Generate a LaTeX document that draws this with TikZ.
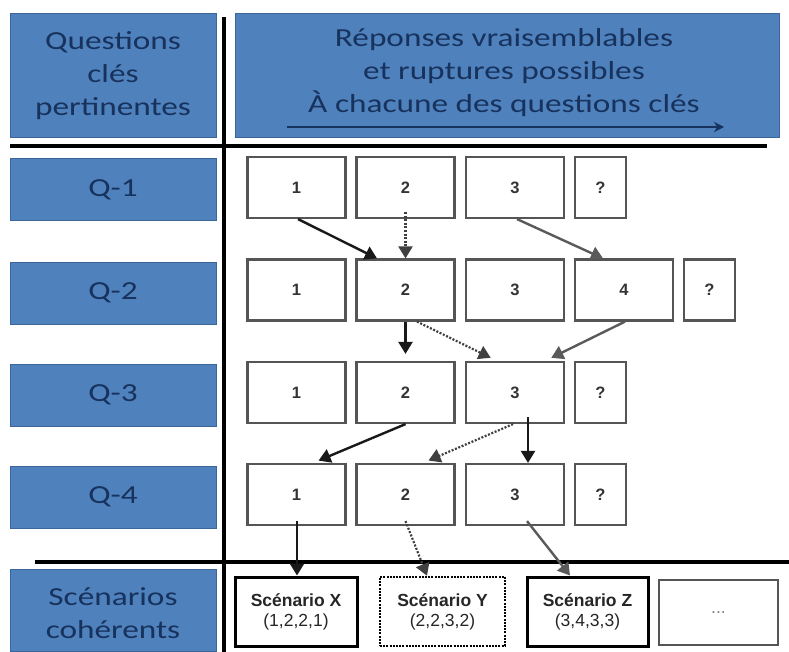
\documentclass[tikz,border=0pt]{standalone}
\usepackage{fontspec}
\setmainfont{Carlito}
\newfontfamily\arialf{Liberation Sans}
\usetikzlibrary{arrows.meta,calc}
\definecolor{boxblue}{HTML}{4F81BD}
\definecolor{boxedge}{HTML}{3B6699}
\definecolor{navy}{HTML}{17325C}
\definecolor{ansedge}{HTML}{555555}
\definecolor{arrgray}{HTML}{5A5A5A}
\tikzset{
  bluebox/.style={draw=boxedge, line width=1pt, fill=boxblue, inner sep=0pt},
  headtxt/.style={text=navy, font=\fontsize{26}{33}\selectfont, align=center, xscale=1.28, inner sep=0pt},
  ans/.style={draw=ansedge, line width=2.2pt, fill=white, inner sep=0pt, minimum height=61pt,
     font=\arialf\bfseries\fontsize{16.5}{18}\selectfont, text=black!80},
  wide/.style={ans, minimum width=98pt},
  narrow/.style={ans, minimum width=51pt},
  scen/.style={draw=black, line width=3pt, fill=white, inner sep=0pt, minimum height=69pt,
     align=center, font=\arialf\fontsize{17.5}{20}\selectfont, text=black!85},
  tipA/.style={-{Triangle[length=12pt,width=14pt]}},
  blk/.style={tipA, draw=black!90, line width=2.4pt},
  gry/.style={tipA, draw=arrgray, line width=2.4pt},
  dot/.style={tipA, draw=black!75, line width=2.2pt, dash pattern=on 2pt off 1.6pt},
  rule/.style={draw=black, line width=3.2pt}
}
\begin{document}
\begin{tikzpicture}[x=1pt,y=-1pt]
\useasboundingbox (0,0) rectangle (789,652);
% header boxes
\node[bluebox, minimum width=206pt, minimum height=124pt] (hq) at (113,75.5) {};
\node[headtxt] (hqt) at (hq.center) {Questions\\clés\\pertinentes};
\node[bluebox, minimum width=544pt, minimum height=124pt] (hr) at (507,75.5) {};
\node[headtxt] (hrt) at (504,73) {Réponses vraisemblables\\et ruptures possibles\\À chacune des questions clés};
\coordinate (ha1) at (287,127);
\coordinate (ha2) at (724,127);
\draw[navy, line width=1.8pt, -{Stealth[length=10pt,width=10pt]}] (ha1) -- (ha2);
% rules
\coordinate (vt) at (224,17);
\coordinate (vb) at (224,652);
\coordinate (h1a) at (10,146);
\coordinate (h1b) at (767,146);
\coordinate (h2a) at (35,562);
\coordinate (h2b) at (789,562);
\draw[rule] (vt) -- (vb);
\draw[rule] (h1a) -- (h1b);
\draw[rule] (h2a) -- (h2b);
% question boxes
\foreach \n/\y in {1/189.5, 2/293, 3/395, 4/497}{
  \node[bluebox, minimum width=206pt, minimum height=62pt] (q\n) at (113,\y) {};
  \node[headtxt] (q\n t) at (q\n.center) {Q-\n};
}
\node[bluebox, minimum width=206pt, minimum height=82pt] (qs) at (113,610) {};
\node[headtxt] (qst) at (113,613) {Scénarios\\cohérents};
% answer rows
\node[wide] (a1) at (296.5,187.5) {1};
\node[wide] (a2) at (405.5,187.5) {2};
\node[wide] (a3) at (515,187.5) {3};
\node[narrow] (a4) at (600.5,187.5) {?};
\node[wide] (b1) at (296.5,290) {1};
\node[wide] (b2) at (405.5,290) {2};
\node[wide] (b3) at (515,290) {3};
\node[wide] (b4) at (624,290) {4};
\node[narrow] (b5) at (709.5,290) {?};
\node[wide] (c1) at (296.5,392.5) {1};
\node[wide] (c2) at (405.5,392.5) {2};
\node[wide] (c3) at (515,392.5) {3};
\node[narrow] (c4) at (600.5,392.5) {?};
\node[wide] (d1) at (296.5,494.5) {1};
\node[wide] (d2) at (405.5,494.5) {2};
\node[wide] (d3) at (515,494.5) {3};
\node[narrow] (d4) at (600.5,494.5) {?};
% scenarios
\node[scen, minimum width=122pt] (sx) at (296,611.5) {\textbf{Scénario X}\\(1,2,2,1)};
\node[scen, minimum width=125pt, line width=2.6pt, dash pattern=on 2pt off 1.2pt] (sy) at (442.5,611.5) {\textbf{Scénario Y}\\(2,2,3,2)};
\node[scen, minimum width=121pt] (sz) at (587.5,611.5) {\textbf{Scénario Z}\\(3,4,3,3)};
\node[scen, minimum width=119pt, minimum height=65pt, draw=ansedge, line width=1.6pt, text=black!50] (sd) at (718.5,612.5) {...};
% arrows row1 -> row2
\draw[blk] ([xshift=1.5pt]a1.south) -- ([xshift=-28.5pt]b2.north);
\draw[dot] ([yshift=7pt]a2.south) -- (b2.north);
\draw[gry] ([xshift=2pt]a3.south) -- ([xshift=-21pt]b4.north);
% row2 -> row3
\draw[blk, shorten >=7pt] (b2.south) -- (c2.north);
\draw[dot, shorten >=7pt] ([xshift=11.5pt]b2.south) -- ([xshift=-18pt]c3.north);
\draw[gry, shorten >=7pt] ([xshift=1pt]b4.south) -- ([xshift=30pt]c3.north);
% row3 -> row4
\draw[blk, shorten >=6pt] (c2.south) -- ([xshift=16.5pt]d1.north);
\draw[dot, shorten >=6pt] ([xshift=-2pt]c3.south) -- ([xshift=17.5pt]d2.north);
\draw[blk] ([xshift=13pt,yshift=7pt]c3.south) -- ([xshift=13pt]d3.north);
% row4 -> scenarios
\draw[blk] ([xshift=0.5pt,yshift=5pt]d1.south) -- ([xshift=1pt]sx.north);
\draw[dot] ([yshift=5pt]d2.south) -- ([xshift=-15.5pt]sy.north);
\draw[gry] ([xshift=12pt,yshift=5pt]d3.south) -- ([xshift=-17.5pt]sz.north);
\end{tikzpicture}
\end{document}
